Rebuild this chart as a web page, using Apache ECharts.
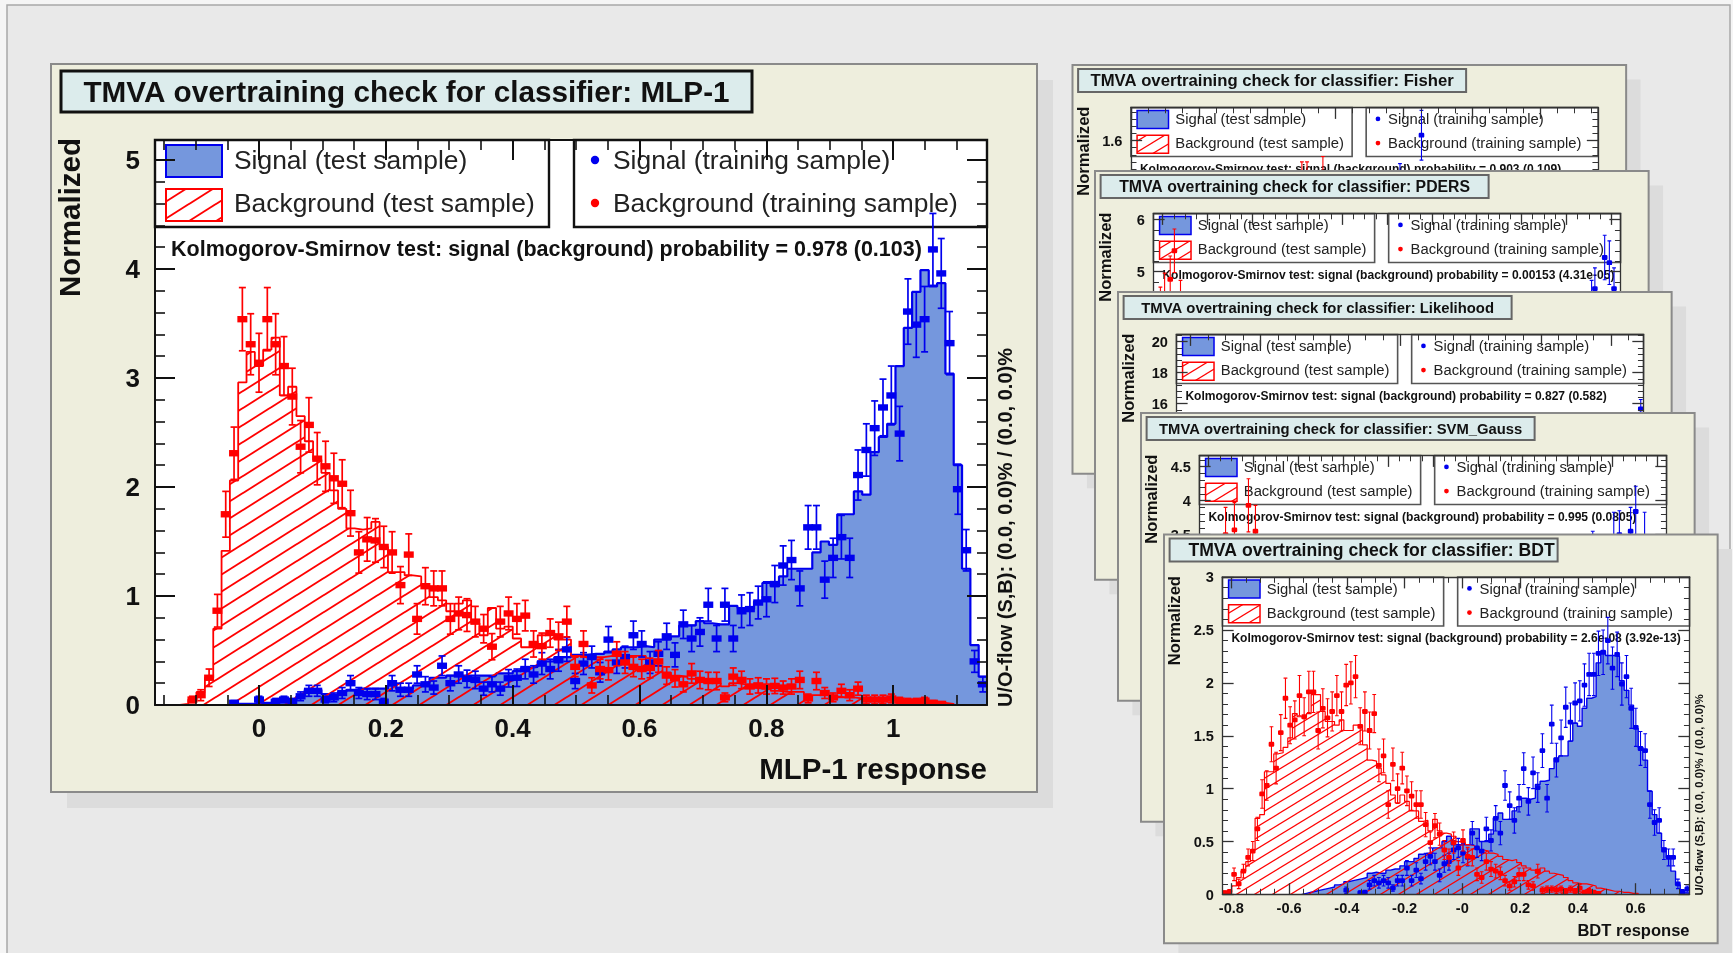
<!DOCTYPE html>
<html><head><meta charset="utf-8">
<style>html,body{margin:0;padding:0;background:#f5f5f5;}#c{width:1733px;height:953px;filter:blur(0.55px);}</style>
<script src="https://cdn.jsdelivr.net/npm/echarts@6/dist/echarts.min.js"></script>
</head><body><div id="c"></div>
<script>
// ---------- MLP-1 histograms (100 bins) ----------
const mlpSigTest=[0,0,0,0,0,0,0,0,0,.01,.01,.01,.02,.02,.03,.03,.04,.08,.14,.14,.10,.09,.12,.14,.15,.15,.15,.15,.18,.15,.15,.18,.20,.25,.25,.27,.27,.27,.27,.27,.27,.29,.29,.31,.34,.35,.40,.40,.44,.44,.46,.46,.47,.47,.49,.51,.53,.53,.54,.53,.60,.60,.63,.73,.73,.77,.75,.74,.74,.91,.89,.88,.95,1.12,1.09,1.18,1.25,1.25,1.25,1.40,1.50,1.47,1.75,1.75,1.96,1.93,2.32,2.46,2.58,3.11,3.46,3.79,3.99,3.84,3.87,3.04,2.20,1.25,.55,.26];
const mlpBgTest=[0,0,0,.01,.05,.12,.25,.70,1.415,2.06,2.96,3.24,3.11,3.26,3.37,2.84,2.92,2.65,2.42,2.25,2.13,1.97,1.80,1.62,1.61,1.62,1.68,1.45,1.22,1.22,1.19,1.18,1.09,.99,.96,.86,.93,.96,.75,.64,.89,.70,.72,.61,.53,.53,.64,.66,.60,.60,.45,.44,.42,.44,.45,.46,.45,.45,.45,.40,.36,.30,.27,.26,.24,.24,.22,.20,.17,.20,.19,.16,.15,.15,.13,.12,.12,.12,.09,.09,.09,.08,.07,.07,.06,.05,.05,.04,.04,.04,.03,.03,.03,.03,.02,.01,0,0,0,0];
const mlpSigTrain=[0,0,0,0,0,0,0,0,0,.02,0,0,.05,0,.03,.05,.03,.08,.13,.13,.05,.07,.11,.20,.11,.10,.10,.03,.20,.14,.14,.28,.19,.16,.36,.20,.28,.24,.23,.15,.19,.15,.245,.25,.33,.28,.38,.33,.41,.51,.22,.38,.44,.30,.60,.39,.44,.64,.56,.39,.47,.63,.46,.74,.61,.67,.92,.61,.92,.61,.86,.88,.94,.97,1.11,1.28,1.33,1.07,1.63,1.63,1.15,1.35,1.54,1.35,2.11,2.34,2.54,2.73,2.84,2.49,3.61,3.49,3.54,4.18,3.96,3.32,1.98,1.42,.40,.19];
const mlpSigTrainErr=[0,0,0,0,0,0,0,0,0,.02,0,0,.03,0,.03,.03,.03,.04,.05,.05,.03,.04,.05,.07,.05,.05,.05,.03,.07,.06,.06,.08,.07,.06,.09,.07,.08,.08,.08,.06,.07,.06,.08,.08,.09,.08,.10,.09,.10,.11,.07,.10,.10,.09,.12,.10,.10,.13,.12,.10,.11,.12,.11,.13,.12,.13,.15,.12,.15,.12,.15,.15,.15,.16,.17,.18,.18,.16,.20,.20,.17,.18,.20,.18,.23,.24,.25,.26,.27,.25,.30,.30,.30,.33,.32,.29,.23,.19,.10,.07];
const mlpBgTrain=[0,0,0,0,.05,.09,.25,.865,1.75,2.31,3.54,3.31,3.14,3.54,3.31,3.11,2.83,2.37,2.57,2.26,2.19,2.08,2.03,1.76,1.40,1.52,1.51,1.45,1.40,1.10,1.38,.79,1.09,1.07,1.07,.79,.84,.825,.765,.70,.535,.765,.84,.79,.82,.56,.54,.66,.63,.765,.35,.56,.18,.33,.32,.47,.39,.35,.33,.34,.40,.27,.245,.19,.29,.23,.22,.22,.07,.26,.23,.17,.18,.17,.175,.16,.17,.23,.06,.22,.11,.07,.13,.09,.15,.05,.05,.05,.06,.04,.03,.03,.04,.02,.01,0,0,0,0,0];
const mlpBgTrainErr=[0,0,0,0,.03,.05,.08,.15,.21,.24,.29,.28,.27,.29,.28,.27,.26,.24,.25,.24,.23,.23,.22,.21,.19,.20,.20,.19,.19,.17,.19,.14,.17,.16,.16,.14,.15,.15,.14,.13,.12,.14,.15,.14,.14,.12,.12,.13,.13,.14,.09,.12,.07,.09,.09,.11,.10,.09,.09,.09,.10,.08,.08,.07,.09,.08,.08,.08,.04,.08,.08,.07,.07,.07,.07,.06,.07,.08,.04,.08,.05,.04,.06,.05,.06,.04,.04,.04,.04,.03,.03,.03,.03,.02,.02,0,0,0,0,0];

// ---------- BDT histograms (100 bins) ----------
const bdtSigTest=[0,0,0,0,0,0,0,0,0,0,0,0,0,0,0,0,0,.01,.02,.03,.04,.05,.06,.07,.09,.10,.12,.13,.14,.15,.16,.20,.21,.20,.20,.23,.24,.24,.27,.31,.31,.34,.38,.39,.39,.44,.44,.50,.55,.47,.47,.47,.47,.62,.62,.50,.50,.57,.72,.77,.71,.71,.79,.83,.91,.90,.91,1.04,1.07,1.08,1.19,1.29,1.31,1.31,1.45,1.62,1.59,1.76,1.855,1.87,2.19,2.30,2.26,2.26,2.25,2.02,1.93,1.79,1.57,1.39,1.27,.975,.755,.58,.44,.35,.22,.09,.015,.01];
const bdtBgTest=[0,.02,.08,.16,.22,.31,.42,.72,.755,1.16,1.16,1.33,1.34,1.39,1.48,1.71,1.68,1.68,1.71,1.89,1.89,1.73,1.635,1.635,1.60,1.65,1.55,1.55,1.60,1.60,1.415,1.27,1.26,1.195,1.13,1.05,.94,.865,.94,.88,.79,.79,.69,.70,.60,.71,.60,.58,.57,.55,.50,.49,.47,.46,.44,.42,.41,.39,.38,.36,.33,.32,.33,.30,.27,.25,.23,.20,.25,.22,.20,.19,.18,.16,.13,.11,.10,.10,.09,.08,.06,.05,.04,.03,.03,.02,.02,.01,.01,0,0,0,0,0,0,0,0,0,0,0];
const bdtSigTrain=[0,0,0,0,0,0,0,0,0,0,0,0,0,0,0,0,0,0,0,0,0,0,0,0,0,0,.04,0,0,.015,.02,.09,.13,.11,.13,.11,.06,.13,.13,.25,.13,.23,.15,.31,.36,.31,.18,.29,.31,.42,.44,.39,.35,.58,.44,.41,.62,.51,.72,.58,1.03,.84,.70,.91,1.19,.88,1.15,1.01,1.36,.91,1.61,1.27,1.48,1.77,1.63,1.81,1.83,1.98,2.08,2.08,2.28,2.29,2.40,2.14,2.27,1.99,2.06,1.76,1.58,1.38,1.36,.85,.68,.70,.42,.35,.35,.10,.025,.05];
const bdtSigTrainErr=[0,0,0,0,0,0,0,0,0,0,0,0,0,0,0,0,0,0,0,0,0,0,0,0,0,0,.03,0,0,.02,.02,.04,.05,.05,.05,.05,.03,.05,.05,.07,.05,.07,.05,.08,.08,.08,.06,.08,.08,.09,.09,.09,.08,.11,.09,.09,.11,.10,.12,.11,.14,.13,.12,.13,.15,.13,.15,.14,.16,.13,.18,.16,.17,.19,.18,.19,.19,.20,.20,.20,.21,.21,.22,.20,.21,.20,.20,.19,.18,.16,.16,.13,.12,.12,.09,.08,.08,.045,.02,.03];
const bdtBgTrain=[.015,.025,.19,.10,.22,.35,.41,.62,.95,1.03,1.42,1.195,1.53,1.855,1.60,1.65,1.88,1.68,1.915,1.915,1.55,1.76,1.67,1.73,1.88,1.73,1.98,2.0,2.06,1.59,1.73,1.55,1.71,1.22,1.31,.85,1.23,1.0,1.195,.98,.93,.85,.85,.66,.49,.65,.57,.42,.35,.49,.25,.51,.36,.35,.19,.16,.31,.24,.22,.20,.13,.08,.12,.19,.19,.09,.08,.22,.04,.05,.05,.04,.05,.03,.05,.03,.06,.02,.03,.02,.01,0,0,0,0,0,0,0,0,0,0,0,0,0,0,0,0,0,0,0];
const bdtBgTrainErr=[.02,.02,.06,.045,.065,.08,.09,.11,.135,.14,.165,.15,.17,.19,.175,.18,.19,.18,.195,.195,.175,.185,.18,.185,.19,.185,.195,.20,.20,.175,.185,.175,.18,.155,.16,.13,.155,.14,.15,.14,.135,.13,.13,.115,.10,.115,.105,.09,.08,.10,.07,.10,.085,.08,.06,.055,.08,.07,.065,.06,.05,.04,.05,.06,.06,.04,.04,.065,.03,.03,.03,.03,.03,.025,.03,.025,.035,.02,.025,.02,.015,0,0,0,0,0,0,0,0,0,0,0,0,0,0,0,0,0,0,0];

// ---------- the parts of the other classifiers that stay visible ----------
const fisherSigX=[.576,.622], fisherSigY=[1.35,1.63], fisherSigE=[.12,.14];
const fisherBgX=[.366,.377,.411], fisherBgY=[1.36,1.36,1.39], fisherBgE=[.12,.12,.12];
const pdersSigX=[.938,.945,.966,.976,.986], pdersSigY=[4.45,4.67,5.27,5.17,4.67], pdersSigE=[.38,.40,.43,.42,.40];
const pdersBgX=[.015,.024,.036,.045,.058], pdersBgY=[4.3,4.55,4.85,5.4,4.45], pdersBgE=[.40,.42,.45,.42,.38];
const likeSigX=[.994], likeSigY=[15.67], likeSigE=[.6];
const svmSigX=[.842,.887,.899,.923,.934,.953], svmSigY=[3.2,3.45,3.5,3.55,3.84,3.46], svmSigE=[.35,.38,.35,.35,.37,.37];
const svmBgX=[.056,.075,.105,.12], svmBgY=[3.5,3.57,3.93,3.55], svmBgE=[.40,.40,.39,.38];

// ---------- tick labels ----------
const mlpXTicks=[0,.2,.4,.6,.8,1], mlpXLabels=['0','0.2','0.4','0.6','0.8','1'];
const mlpYTicks=[0,1,2,3,4,5], mlpYLabels=['0','1','2','3','4','5'];
const bdtXTicks=[-.8,-.6,-.4,-.2,0,.2,.4,.6], bdtXLabels=['-0.8','-0.6','-0.4','-0.2','-0','0.2','0.4','0.6'];
const bdtYTicks=[0,.5,1,1.5,2,2.5,3], bdtYLabels=['0','0.5','1','1.5','2','2.5','3'];
const fisherYTicks=[0,.2,.4,.6,.8,1,1.2,1.4,1.6], fisherYLabels=['0','0.2','0.4','0.6','0.8','1','1.2','1.4','1.6'];
const pdersYTicks=[0,1,2,3,4,5,6], pdersYLabels=['0','1','2','3','4','5','6'];
const likeYTicks=[0,2,4,6,8,10,12,14,16,18,20], likeYLabels=['0','2','4','6','8','10','12','14','16','18','20'];
const svmYTicks=[0,.5,1,1.5,2,2.5,3,3.5,4,4.5], svmYLabels=['0','0.5','1','1.5','2','2.5','3','3.5','4','4.5'];

const KS='Kolmogorov-Smirnov test: signal (background) probability = ';
const LEG=['Signal (test sample)','Background (test sample)','Signal (training sample)','Background (training sample)'];
const FONT='"Liberation Sans"';
const BLUE='#0000ee',RED='#ff0000',FILL='#7597dd';

function hatch(w,h,lw){
  const c=document.createElement('canvas');c.width=w;c.height=h;const g=c.getContext('2d');
  g.strokeStyle=RED;g.lineWidth=lw;
  for(let k=-1;k<=1;k++){g.beginPath();g.moveTo(k*w-1,h+h/w);g.lineTo(k*w+w+1,-h/w);g.stroke();}
  return {image:c,repeat:'repeat'};
}
function seq(a,b,s){const o=[];for(let k=0;;k++){const v=a+k*s;if(v>b+1e-9)break;o.push(+v.toFixed(5));}return o;}
function histLine(vals,xmin,xmax){
  const w=(xmax-xmin)/vals.length,pts=[];let a=vals.findIndex(v=>v>0),b=vals.length-1;
  while(b>0&&!(vals[b]>0))b--;
  pts.push([xmin+a*w,0]);
  for(let i=a;i<=b;i++){pts.push([xmin+i*w,vals[i]],[xmin+(i+1)*w,vals[i]]);}
  if(b<vals.length-1)pts.push([xmin+(b+1)*w,0]);
  return pts;
}
function binPts(vals,errs,xmin,xmax){
  const w=(xmax-xmin)/vals.length,o=[];
  vals.forEach((v,i)=>{if(v>0)o.push([xmin+(i+.5)*w,v,errs[i]]);});return o;
}
function zipPts(x,y,e){return x.map((v,i)=>[v,y[i],e[i]]);}

const grids=[],xAxes=[],yAxes=[],series=[],els=[];
function panel(p){
  const f=p.f,X=v=>p.L+v*f,Y=v=>p.T+v*f,z=p.base;
  const thick=f>.9;
  // shadow, frame, title
  els.push({type:'rect',z:z,shape:{x:p.L+16*(thick?1:.9),y:p.T+16*(thick?1:.9),width:986*f,height:728*f},style:{fill:'#dcdcdc'},silent:true});
  els.push({type:'rect',z:z+1,shape:{x:p.L,y:p.T,width:986*f,height:728*f},style:{fill:'#eeeedd',stroke:'#8a8a8a',lineWidth:2},silent:true});
  els.push({type:'rect',z:z+1,shape:{x:X(10),y:Y(7),width:691*f,height:41*f},style:{fill:'#dcecec',stroke:thick?'#111':'#666',lineWidth:thick?3:2},silent:true});
  els.push({type:'text',z:z+2,x:X(355.5)+(p.titleDx||0),y:Y(29.5),style:{text:'TMVA overtraining check for classifier: '+p.name,font:'bold '+p.titleSize+'px '+FONT,fill:'#111',textAlign:'center',textVerticalAlign:'middle'},silent:true});
  // plot background and legend boxes
  const px=X(104),py=Y(76),pw=832*f,ph=565*f;
  els.push({type:'rect',z:z+2,shape:{x:px,y:py,width:pw,height:ph},style:{fill:'#fff'},silent:true});
  const lbs=thick?2.4:1.6,lbc=thick?'#111':'#555';
  els.push({type:'rect',z:z+3,shape:{x:px,y:py,width:394*f,height:87*f},style:{fill:'#fff',stroke:lbc,lineWidth:lbs},silent:true});
  els.push({type:'rect',z:z+3,shape:{x:X(523),y:py,width:413*f,height:87*f},style:{fill:'#fff',stroke:lbc,lineWidth:lbs},silent:true});
  els.push({type:'rect',z:z+3,shape:{x:X(115),y:Y(81),width:56*f,height:32*f},style:{fill:FILL,stroke:BLUE,lineWidth:thick?2:1.5},silent:true});
  els.push({type:'rect',z:z+3,shape:{x:X(115),y:Y(125),width:56*f,height:32*f},style:{fill:p.pat,stroke:RED,lineWidth:thick?2:1.5},silent:true});
  const lf=(26.4*f)+'px '+FONT;
  [[183,98,0],[183,141,1],[562,98,2],[562,141,3]].forEach(a=>els.push({type:'text',z:z+3,x:X(a[0]),y:Y(a[1]),style:{text:LEG[a[2]],font:lf,fill:'#222',textAlign:'left',textVerticalAlign:'middle'},silent:true}));
  els.push({type:'circle',z:z+3,shape:{cx:X(544),cy:Y(96),r:4.2*f},style:{fill:BLUE},silent:true});
  els.push({type:'circle',z:z+3,shape:{cx:X(544),cy:Y(139),r:4.2*f},style:{fill:RED},silent:true});
  els.push({type:'text',z:z+3,x:X(120),y:Y(186),style:{text:KS+p.ks,font:'bold '+(21.5*f)+'px '+FONT,fill:'#111',textAlign:'left',textVerticalAlign:'middle'},silent:true});
  // axis titles and overflow note
  els.push({type:'text',z:z+2,x:X(21),y:Y(74),rotation:Math.PI/2,style:{text:'Normalized',font:'bold '+(29.5*f)+'px '+FONT,fill:'#111',textAlign:'right',textVerticalAlign:'middle'},silent:true});
  els.push({type:'text',z:z+2,x:X(955),y:Y(643),rotation:Math.PI/2,style:{text:'U/O-flow (S,B): (0.0, 0.0)% / (0.0, 0.0)%',font:'bold '+(20*f)+'px '+FONT,fill:'#111',textAlign:'left',textVerticalAlign:'middle'},silent:true});
  if(p.xTitle)els.push({type:'text',z:z+2,x:X(936),y:Y(707),style:{text:p.xTitle,font:'bold '+(29.5*f)+'px '+FONT,fill:'#111',textAlign:'right',textVerticalAlign:'middle'},silent:true});

  // axes: one grid for major ticks (and the data), one overlaid grid for minor ticks
  const rect={left:px,top:py,width:pw,height:ph,containLabel:false,show:false};
  const tickMaj=20*f,tickMin=10*f,lw=thick?2:1.3,ac=thick?'#111':'#333';
  const lab=(ticks,labels)=>v=>{const i=ticks.findIndex(t=>Math.abs(t-v)<1e-6);return i<0?'':labels[i];};
  const labRich=(ticks,labels)=>v=>{const s=lab(ticks,labels)(v);return s?'{a|'+s+'}':'';};
  const gMaj=grids.length;grids.push(Object.assign({},rect));
  const xi=xAxes.length,yi=yAxes.length;
  const common={type:'value',z:z+8,silent:true,splitLine:{show:false},gridIndex:gMaj,axisPointer:{show:false}};
  xAxes.push(Object.assign({},common,{position:'bottom',min:p.xmin,max:p.xmax,
    axisLine:{show:true,onZero:false,lineStyle:{color:ac,width:lw}},
    axisTick:{show:true,inside:true,length:tickMaj,customValues:p.xT,lineStyle:{color:ac,width:lw}},
    axisLabel:{show:!!p.xL,customValues:p.xT,formatter:p.xL?lab(p.xT,p.xL):'',margin:12*f,fontFamily:FONT,fontWeight:'bold',fontSize:26*f,color:'#111',hideOverlap:false,showMinLabel:true,showMaxLabel:true}}));
  xAxes.push(Object.assign({},common,{position:'top',min:p.xmin,max:p.xmax,
    axisLine:{show:true,onZero:false,lineStyle:{color:ac,width:lw}},
    axisTick:{show:true,inside:true,length:tickMaj,customValues:p.xT,lineStyle:{color:ac,width:lw}},axisLabel:{show:false}}));
  yAxes.push(Object.assign({},common,{position:'left',min:0,max:p.ymax,
    axisLine:{show:true,onZero:false,lineStyle:{color:ac,width:lw}},
    axisTick:{show:true,inside:true,length:tickMaj,customValues:p.yT,lineStyle:{color:ac,width:lw}},
    axisLabel:{show:true,customValues:p.yT,formatter:labRich(p.yT,p.yL),margin:15*f,hideOverlap:false,showMinLabel:true,showMaxLabel:true,
      rich:{a:{fontFamily:FONT,fontWeight:'bold',fontSize:26*f,color:'#111',padding:[4*f,0,0,0]}}}}));
  yAxes.push(Object.assign({},common,{position:'right',min:0,max:p.ymax,
    axisLine:{show:true,onZero:false,lineStyle:{color:ac,width:lw}},
    axisTick:{show:true,inside:true,length:tickMaj,customValues:p.yT,lineStyle:{color:ac,width:lw}},axisLabel:{show:false}}));
  const gMin=grids.length;grids.push(Object.assign({},rect));
  const cm=Object.assign({},common,{gridIndex:gMin,axisLine:{show:false,onZero:false},axisLabel:{show:false}});
  const tk=v=>({show:true,inside:true,length:tickMin,customValues:v,lineStyle:{color:ac,width:thick?1.6:1}});
  xAxes.push(Object.assign({},cm,{position:'bottom',min:p.xmin,max:p.xmax,axisTick:tk(p.xM)}));
  xAxes.push(Object.assign({},cm,{position:'top',min:p.xmin,max:p.xmax,axisTick:tk(p.xM)}));
  yAxes.push(Object.assign({},cm,{position:'left',min:0,max:p.ymax,axisTick:tk(p.yM)}));
  yAxes.push(Object.assign({},cm,{position:'right',min:0,max:p.ymax,axisTick:tk(p.yM)}));

  // histograms
  const base={type:'line',xAxisIndex:xi,yAxisIndex:yi,symbol:'none',showSymbol:false,silent:true,clip:true,animation:false};
  if(p.sigTest)series.push(Object.assign({},base,{name:'Signal (test sample)',z:z+4,data:histLine(p.sigTest,p.xmin,p.xmax),lineStyle:{color:BLUE,width:thick?2.2:1.4},areaStyle:{color:FILL,opacity:1}}));
  if(p.bgTest)series.push(Object.assign({},base,{name:'Background (test sample)',z:z+5,data:histLine(p.bgTest,p.xmin,p.xmax),lineStyle:{color:RED,width:thick?1.8:1.2},areaStyle:{color:p.pat,opacity:1}}));
  // training points with error bars
  const pts=(name,data,color,order)=>series.push({type:'custom',name:name,xAxisIndex:xi,yAxisIndex:yi,z:z+order,silent:true,clip:true,animation:false,
    encode:{x:0,y:1},data:data,
    renderItem:(params,api)=>{
      const x=api.value(0),y=api.value(1),e=api.value(2);
      const c=api.coord([x,y]),hi=api.coord([x,y+e]),lo=api.coord([x,Math.max(y-e,0)]);
      const ln={stroke:color,lineWidth:thick?1.7:1.1,fill:null};
      const cw=thick?3.5:1.9,mw=thick?5:2.8,mh=thick?3.2:2.4;
      return {type:'group',children:[
        {type:'line',shape:{x1:c[0],y1:hi[1],x2:c[0],y2:lo[1]},style:ln},
        {type:'line',shape:{x1:c[0]-cw,y1:hi[1],x2:c[0]+cw,y2:hi[1]},style:ln},
        {type:'line',shape:{x1:c[0]-cw,y1:lo[1],x2:c[0]+cw,y2:lo[1]},style:ln},
        {type:'rect',shape:{x:c[0]-mw,y:c[1]-mh,width:2*mw,height:2*mh,r:thick?0:1.2},style:{fill:color}}
      ]};
    }});
  if(p.sigPts)pts('Signal (training sample)',p.sigPts,BLUE,6);
  if(p.bgPts)pts('Background (training sample)',p.bgPts,RED,7);
}

const patBig=hatch(27,17,1.9),patSmall=hatch(18,11,1.2),F=.5615;
const fracMinor=s=>seq(0,1,s);
panel({name:'MLP-1',L:51,T:64,f:1,base:100,titleSize:29.7,pat:patBig,ks:'0.978 (0.103)',xTitle:'MLP-1 response',
  xmin:-.164,xmax:1.148,ymax:5.184,xT:mlpXTicks,xL:mlpXLabels,xM:seq(-.15,1.15,.05),yT:mlpYTicks,yL:mlpYLabels,yM:seq(0,5.18,.2),
  sigTest:mlpSigTest,bgTest:mlpBgTest,sigPts:binPts(mlpSigTrain,mlpSigTrainErr,-.164,1.148),bgPts:binPts(mlpBgTrain,mlpBgTrainErr,-.164,1.148)});
panel({name:'Fisher',L:1072.5,T:65,f:F,base:200,titleSize:16.7,pat:patSmall,ks:'0.903 (0.109)',
  xmin:0,xmax:1,ymax:1.785,xT:seq(0,1,.146),xL:null,xM:fracMinor(.0365),yT:fisherYTicks,yL:fisherYLabels,yM:seq(0,1.78,.04),
  sigPts:zipPts(fisherSigX,fisherSigY,fisherSigE),bgPts:zipPts(fisherBgX,fisherBgY,fisherBgE)});
panel({name:'PDERS',L:1095,T:171,f:F,base:300,titleSize:15.8,pat:patSmall,ks:'0.00153 (4.31e-05)',
  xmin:0,xmax:1,ymax:6.115,xT:seq(.02,1,.096),xL:null,xM:seq(.02,1,.024),yT:pdersYTicks,yL:pdersYLabels,yM:seq(0,6.1,.2),
  sigPts:zipPts(pdersSigX,pdersSigY,pdersSigE),bgPts:zipPts(pdersBgX,pdersBgY,pdersBgE)});
panel({name:'Likelihood',L:1118,T:292,f:F,base:400,titleSize:14.85,pat:patSmall,ks:'0.827 (0.582)',
  xmin:0,xmax:1,ymax:20.45,xT:seq(.03,1,.15),xL:null,xM:seq(.03,1,.0375),yT:likeYTicks,yL:likeYLabels,yM:seq(0,20.4,.4),
  sigPts:zipPts(likeSigX,likeSigY,likeSigE)});
panel({name:'SVM_Gauss',L:1141,T:413,f:F,base:500,titleSize:14.8,pat:patSmall,ks:'0.995 (0.0805)',
  xmin:0,xmax:1,ymax:4.66,xT:seq(.02,1,.096),xL:null,xM:seq(.02,1,.024),yT:svmYTicks,yL:svmYLabels,yM:seq(0,4.6,.1),
  sigPts:zipPts(svmSigX,svmSigY,svmSigE),bgPts:zipPts(svmBgX,svmBgY,svmBgE)});
panel({name:'BDT',L:1164,T:534.5,f:F,base:600,titleSize:17.6,titleDx:8,pat:patSmall,ks:'2.6e-08 (3.92e-13)',xTitle:'BDT response',
  xmin:-.831,xmax:.787,ymax:3,xT:bdtXTicks,xL:bdtXLabels,xM:seq(-.8,.75,.05),yT:bdtYTicks,yL:bdtYLabels,yM:seq(0,3,.1),
  sigTest:bdtSigTest,bgTest:bdtBgTest,sigPts:binPts(bdtSigTrain,bdtSigTrainErr,-.831,.787),bgPts:binPts(bdtBgTrain,bdtBgTrainErr,-.831,.787)});

// slide background
els.unshift({type:'rect',z:1,shape:{x:7,y:5,width:1723,height:960},style:{fill:'#e9e9e9',stroke:'#a8a8a8',lineWidth:1.5},silent:true});

const chart=echarts.init(document.getElementById('c'),null,{renderer:'canvas',width:1733,height:953});
chart.setOption({animation:false,backgroundColor:'transparent',tooltip:{show:false},grid:grids,xAxis:xAxes,yAxis:yAxes,series:series,graphic:[{elements:els}]});
</script></body></html>
